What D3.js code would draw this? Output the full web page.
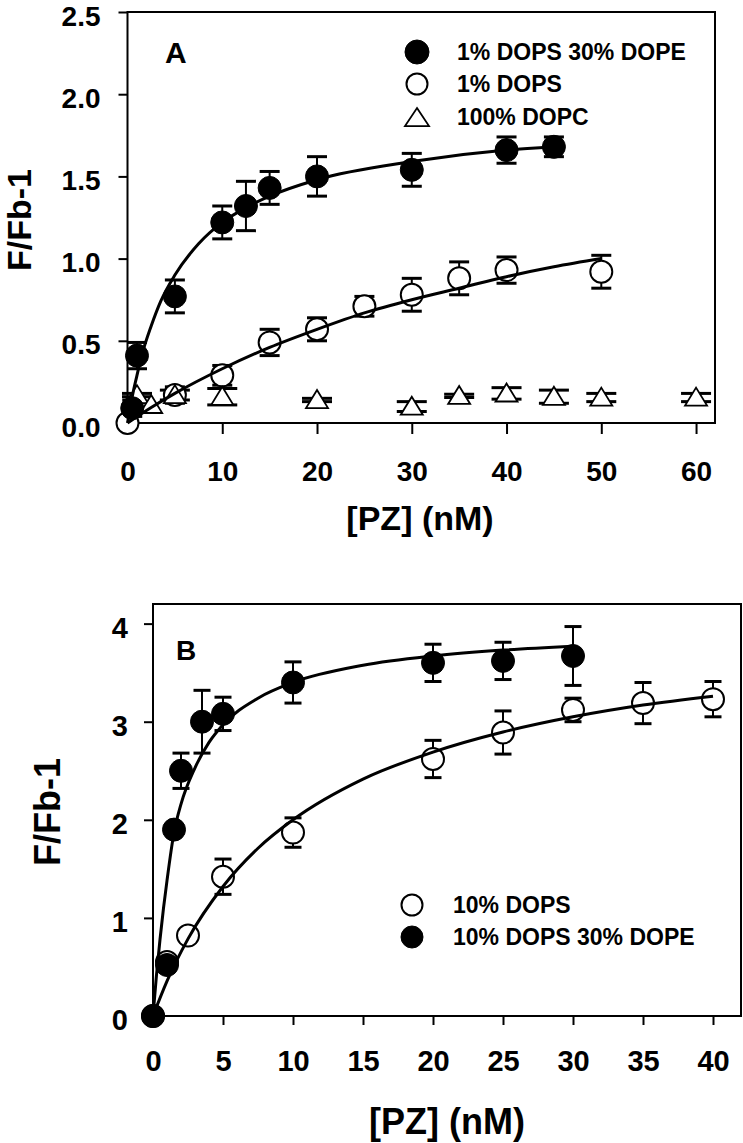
<!DOCTYPE html>
<html>
<head>
<meta charset="utf-8">
<script src="https://cdn.jsdelivr.net/npm/d3@7"></script>
<style>
  html, body { margin: 0; padding: 0; background: #fff; }
  svg { display: block; }
  text { font-family: "Liberation Sans", Arial, sans-serif; font-weight: bold; fill: #000; }
</style>
</head>
<body>
<svg id="chart" width="743" height="1143"></svg>
<script>
// ---------------- Panel A data ----------------
const aXTicks = [0, 10, 20, 30, 40, 50, 60];
const aYTicks = [0, 0.5, 1.0, 1.5, 2.0, 2.5];

const aFilledX   = [0.5, 1, 5, 10, 12.5, 15, 20, 30, 40, 45];
const aFilledY   = [0.09, 0.41, 0.77, 1.22, 1.32, 1.43, 1.50, 1.54, 1.66, 1.68];
const aFilledErr = [0.05, 0.08, 0.10, 0.10, 0.15, 0.10, 0.12, 0.10, 0.08, 0.06];

const aOpenX   = [0, 5, 10, 15, 20, 25, 30, 35, 40, 50];
const aOpenY   = [0, 0.17, 0.29, 0.49, 0.57, 0.71, 0.78, 0.88, 0.93, 0.92];
const aOpenErr = [0, 0.05, 0.06, 0.08, 0.07, 0.06, 0.10, 0.10, 0.08, 0.10];

const aTriX   = [1, 2.5, 5, 10, 20, 30, 35, 40, 45, 50, 60];
const aTriY   = [0.17, 0.11, 0.17, 0.16, 0.14, 0.10, 0.165, 0.18, 0.16, 0.155, 0.155];
const aTriErr = [0.01, 0.0, 0.03, 0.05, 0.01, 0.03, 0.01, 0.035, 0.04, 0.025, 0.025];

// fitted curves
const aFitFilledX = [0, 0.25, 0.5, 1, 1.5, 2.5, 3.5, 5, 7.5, 10, 12.5, 15, 20, 30, 40, 45];
const aFitFilledY = [0, 0.08, 0.16, 0.29, 0.41, 0.59, 0.74, 0.90, 1.09, 1.22, 1.31, 1.38, 1.48, 1.59, 1.66, 1.68];
const aFitOpenX = [0, 2.5, 5, 10, 15, 20, 25, 30, 35, 40, 45, 50];
const aFitOpenY = [0, 0.094, 0.18, 0.33, 0.46, 0.57, 0.67, 0.75, 0.82, 0.89, 0.95, 1.00];

const aLegend = ["1% DOPS 30% DOPE", "1% DOPS", "100% DOPC"];

// ---------------- Panel B data ----------------
const bXTicks = [0, 5, 10, 15, 20, 25, 30, 35, 40];
const bYTicks = [0, 1, 2, 3, 4];

const bFilledX   = [0, 1, 1.5, 2, 3.5, 5, 10, 20, 25, 30];
const bFilledY   = [0, 0.52, 1.90, 2.50, 3.00, 3.08, 3.40, 3.60, 3.62, 3.67];
const bFilledErr = [0, 0.05, 0.05, 0.18, 0.32, 0.17, 0.21, 0.19, 0.19, 0.30];

const bOpenX   = [0, 1, 2.5, 5, 10, 20, 25, 30, 35, 40];
const bOpenY   = [0, 0.55, 0.82, 1.42, 1.87, 2.62, 2.89, 3.12, 3.19, 3.23];
const bOpenErr = [0, 0, 0, 0.18, 0.15, 0.19, 0.22, 0.12, 0.21, 0.18];

const bFitFilledX = [0, 0.25, 0.5, 0.75, 1, 1.5, 2, 3, 4, 5, 7.5, 10, 15, 20, 25, 30];
const bFitFilledY = [0, 0.42, 0.78, 1.10, 1.38, 1.87, 2.16, 2.53, 2.79, 2.97, 3.24, 3.40, 3.575, 3.67, 3.73, 3.77];
const bFitOpenX = [0, 1, 2.5, 5, 7.5, 10, 15, 20, 25, 30, 35, 40];
const bFitOpenY = [0, 0.355, 0.786, 1.32, 1.71, 2.0, 2.415, 2.69, 2.895, 3.05, 3.17, 3.26];

const bLegend = ["10% DOPS", "10% DOPS 30% DOPE"];

// ---------------- drawing ----------------
const svg = d3.select("#chart");
const zip = (xs, ys, es) => xs.map((x, i) => ({ x, y: ys[i], e: es ? es[i] : 0 }));

function triPath(w, h) {
  return `M0,${-h * 0.55}L${w / 2},${h * 0.45}L${-w / 2},${h * 0.45}Z`;
}

function panel(cfg) {
  const g = svg.append("g");
  const x = d3.scaleLinear().domain(cfg.xDomain).range(cfg.xRange);
  const y = d3.scaleLinear().domain(cfg.yDomain).range(cfg.yRange);

  // frame
  g.append("rect")
    .attr("x", cfg.xRange[0]).attr("y", cfg.yRange[1])
    .attr("width", cfg.xRange[1] - cfg.xRange[0])
    .attr("height", cfg.yRange[0] - cfg.yRange[1])
    .attr("fill", "none").attr("stroke", "#000").attr("stroke-width", 2);

  // axes
  const yAxis = g.append("g").attr("transform", `translate(${cfg.xRange[0]},0)`)
    .call(d3.axisLeft(y).tickValues(cfg.yTicks).tickFormat(cfg.yFmt)
      .tickSize(cfg.yTickLen).tickPadding(cfg.yPad));
  const xAxis = g.append("g").attr("transform", `translate(0,${cfg.yRange[0]})`)
    .call(d3.axisBottom(x).tickValues(cfg.xTicks).tickFormat(d3.format("d"))
      .tickSize(cfg.xTickLen).tickPadding(cfg.xPad));
  [yAxis, xAxis].forEach(a => {
    a.select(".domain").remove();
    a.selectAll(".tick line").attr("stroke", "#000").attr("stroke-width", 2);
    a.selectAll(".tick text").attr("font-size", cfg.tickFont)
      .attr("font-family", '"Liberation Sans", Arial, sans-serif')
      .attr("font-weight", "bold").attr("fill", "#000");
  });
  yAxis.selectAll(".tick text").attr("dy", "0.47em");

  // axis titles
  g.append("text")
    .attr("transform", `translate(${cfg.yTitlePos[0]},${cfg.yTitlePos[1]}) rotate(-90)`)
    .attr("text-anchor", "middle").attr("font-size", cfg.titleFont)
    .text("F/Fb-1");
  g.append("text")
    .attr("x", cfg.xTitlePos[0]).attr("y", cfg.xTitlePos[1])
    .attr("text-anchor", "middle").attr("font-size", cfg.titleFont)
    .text("[PZ] (nM)");

  // panel letter
  g.append("text").attr("x", cfg.letterPos[0]).attr("y", cfg.letterPos[1])
    .attr("font-size", cfg.letterFont).text(cfg.letter);

  const line = d3.line().x(d => x(d.x)).y(d => y(d.y)).curve(d3.curveMonotoneX);

  // series: error bars, markers, then fit curves on top
  cfg.series.forEach(s => {
    const pts = zip(s.x, s.y, s.err).filter(d => d.e > 0);
    const eb = g.append("g").attr("stroke", "#000");
    eb.selectAll("line.stem").data(pts).enter().append("line")
      .attr("x1", d => x(d.x)).attr("x2", d => x(d.x))
      .attr("y1", d => y(d.y + d.e)).attr("y2", d => y(d.y - d.e))
      .attr("stroke-width", 2);
    [1, -1].forEach(sg => {
      eb.selectAll(null).data(pts).enter().append("line")
        .attr("x1", d => x(d.x) - s.cap / 2).attr("x2", d => x(d.x) + s.cap / 2)
        .attr("y1", d => y(d.y + sg * d.e)).attr("y2", d => y(d.y + sg * d.e))
        .attr("stroke-width", 3);
    });
  });
  cfg.series.forEach(s => {
    const pts = zip(s.x, s.y);
    const mk = g.append("g");
    if (s.shape === "tri") {
      mk.selectAll("path").data(pts).enter().append("path")
        .attr("d", triPath(s.w, s.h))
        .attr("transform", d => `translate(${x(d.x)},${y(d.y)})`)
        .attr("fill", "#fff").attr("stroke", "#000").attr("stroke-width", 1.8);
    } else {
      mk.selectAll("circle").data(pts).enter().append("circle")
        .attr("cx", d => x(d.x)).attr("cy", d => y(d.y))
        .attr("r", s.r)
        .attr("fill", s.shape === "filled" ? "#000" : "#fff")
        .attr("stroke", "#000").attr("stroke-width", s.shape === "filled" ? 1 : 2);
    }
  });
  cfg.fits.forEach(f => {
    g.append("path").datum(zip(f.x, f.y)).attr("d", line)
      .attr("fill", "none").attr("stroke", "#000").attr("stroke-width", 3);
  });

  // legend
  cfg.legend.forEach((L, i) => {
    const cy = L.baseline - 8;
    if (L.shape === "tri") {
      g.append("path").attr("d", triPath(24, 18))
        .attr("transform", `translate(${cfg.legendX},${cy + 1})`)
        .attr("fill", "#fff").attr("stroke", "#000").attr("stroke-width", 1.8);
    } else {
      g.append("circle").attr("cx", cfg.legendX).attr("cy", cy).attr("r", L.r)
        .attr("fill", L.shape === "filled" ? "#000" : "#fff")
        .attr("stroke", "#000").attr("stroke-width", L.shape === "filled" ? 1 : 2);
    }
    g.append("text").attr("x", cfg.legendTextX).attr("y", L.baseline)
      .attr("font-size", cfg.legendFont).text(L.label);
  });
}

panel({
  xDomain: [0, 62], xRange: [127.5, 715],
  yDomain: [0, 2.5], yRange: [423, 12],
  xTicks: aXTicks, yTicks: aYTicks, yFmt: d3.format(".1f"),
  yTickLen: 9, yPad: 18, xTickLen: 11, xPad: 27,
  tickFont: 28, titleFont: 34, letterFont: 30,
  yTitlePos: [31, 220], xTitlePos: [420, 530],
  letter: "A", letterPos: [165, 63],
  series: [
    { x: aOpenX, y: aOpenY, err: aOpenErr, shape: "open", r: 11, cap: 20 },
    { x: aTriX, y: aTriY, err: aTriErr, shape: "tri", w: 22, h: 18, cap: 30 },
    { x: aFilledX, y: aFilledY, err: aFilledErr, shape: "filled", r: 11.5, cap: 20 }
  ],
  fits: [
    { x: aFitFilledX, y: aFitFilledY },
    { x: aFitOpenX, y: aFitOpenY }
  ],
  legendX: 417, legendTextX: 457, legendFont: 23,
  legend: [
    { label: aLegend[0], shape: "filled", r: 12, baseline: 60 },
    { label: aLegend[1], shape: "open", r: 10.5, baseline: 92 },
    { label: aLegend[2], shape: "tri", baseline: 125 }
  ]
});

panel({
  xDomain: [0, 42], xRange: [153, 741],
  yDomain: [0, 4.2], yRange: [1016, 604],
  xTicks: bXTicks, yTicks: bYTicks, yFmt: d3.format("d"),
  yTickLen: 9, yPad: 16, xTickLen: 9, xPad: 25,
  tickFont: 29, titleFont: 36, letterFont: 28,
  yTitlePos: [60, 812], xTitlePos: [447, 1134],
  letter: "B", letterPos: [176, 660],
  series: [
    { x: bOpenX, y: bOpenY, err: bOpenErr, shape: "open", r: 11, cap: 17 },
    { x: bFilledX, y: bFilledY, err: bFilledErr, shape: "filled", r: 11.5, cap: 17 }
  ],
  fits: [
    { x: bFitFilledX, y: bFitFilledY },
    { x: bFitOpenX, y: bFitOpenY }
  ],
  legendX: 412, legendTextX: 453, legendFont: 23,
  legend: [
    { label: bLegend[0], shape: "open", r: 10.5, baseline: 913 },
    { label: bLegend[1], shape: "filled", r: 11, baseline: 945 }
  ]
});
</script>
</body>
</html>
